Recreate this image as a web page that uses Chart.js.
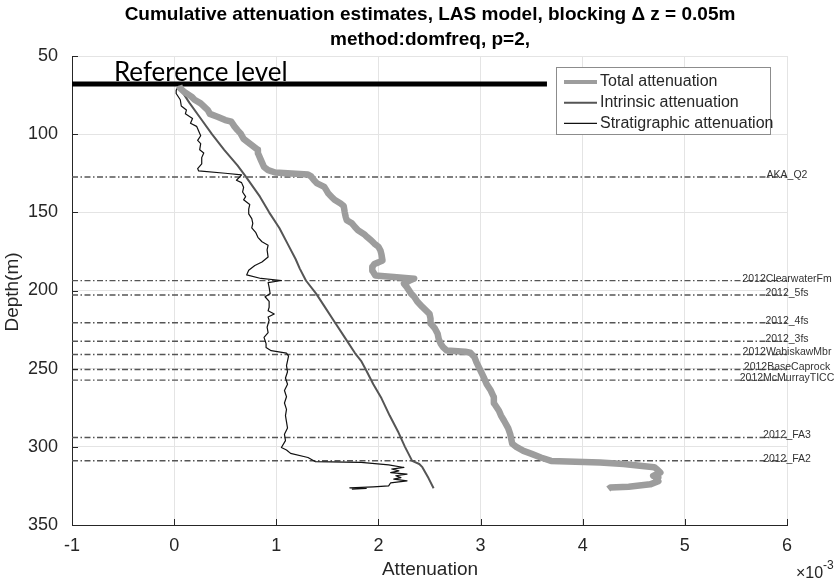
<!DOCTYPE html>
<html>
<head>
<meta charset="utf-8">
<script src="https://cdn.jsdelivr.net/npm/chart.js@4.4.1/dist/chart.umd.min.js"></script>
<style>
  html, body { margin: 0; padding: 0; background: #fff; }
  canvas { display: block; }
</style>
</head>
<body>
<canvas id="atten" width="839" height="584"></canvas>
<script>
// Depth in metres, attenuation in units of 1e-3

const stratDepth = [69.6, 72, 74, 78, 82, 84.6, 87, 90, 93, 95, 98, 101, 104, 106, 110, 112, 115, 119, 122, 123.5,
  125, 126, 127.5, 129.5, 131, 134, 137, 140, 142, 145, 148, 151, 154, 157, 160, 163, 166, 168.8, 171, 174,
  178.6, 181.8, 184, 187, 190, 192.3, 193.6, 195, 198, 202, 204, 207, 210.7, 213, 215, 217, 219, 223.5, 227, 230,
  234, 236.5, 238.5, 240, 242, 245, 248, 252, 256, 260, 264, 268, 272, 276, 280, 284, 288, 292, 296, 300.4,
  302, 304.2, 306.8, 309.4, 310, 311.5, 313.2, 314.2, 315.4, 316.5, 317.5, 318.5, 319.7, 320.7, 321.8, 323, 325,
  325.6, 326.2, 326.6, 327];
const stratAtten = [0.04, 0.02, 0.02, 0.06, 0.07, 0.12, 0.11, 0.18, 0.16, 0.22, 0.24, 0.26, 0.23, 0.26, 0.25, 0.29, 0.27, 0.27, 0.23, 0.24,
  0.5, 0.66, 0.64, 0.61, 0.66, 0.68, 0.67, 0.70, 0.68, 0.74, 0.73, 0.73, 0.76, 0.77, 0.76, 0.80, 0.82, 0.86, 0.92, 0.91,
  0.92, 0.86, 0.79, 0.73, 0.71, 0.85, 1.05, 0.92, 0.93, 0.94, 0.89, 0.93, 0.93, 0.92, 0.98, 0.92, 0.93, 0.91, 0.92, 0.88,
  0.90, 0.90, 0.95, 1.10, 1.12, 1.11, 1.10, 1.11, 1.09, 1.11, 1.08, 1.10, 1.08, 1.10, 1.09, 1.10, 1.11, 1.08, 1.09, 1.05,
  1.10, 1.14, 1.31, 1.38, 1.83, 2.10, 2.25, 2.13, 2.20, 2.12, 2.28, 2.17, 2.22, 2.15, 2.28, 2.12, 2.10,
  1.95, 1.72, 1.88, 1.74];

const intrDepth = [69, 80, 90, 100, 110, 120, 127, 140, 150, 160, 170, 180, 186, 193.6, 202, 210, 219, 230, 240, 245,
  251, 260, 269, 280, 290, 300, 309, 311, 313, 320, 326.5];
const intrAtten = [0.04, 0.15, 0.26, 0.37, 0.49, 0.62, 0.70, 0.84, 0.93, 1.03, 1.11, 1.19, 1.23, 1.29, 1.39, 1.47, 1.56, 1.67, 1.77, 1.83,
  1.88, 1.95, 2.03, 2.11, 2.19, 2.26, 2.33, 2.40, 2.43, 2.49, 2.54];

const totalDepth = [69, 70.7, 73, 76, 78, 80.3, 84.6, 87, 89, 91, 92, 95, 97.4, 99.5, 103, 106, 110, 112, 116.6, 121,
  123, 124.5, 125.2, 125.8, 127, 129.5, 131.5, 133.7, 135.8, 138, 140, 142, 144.4, 146, 150, 153, 155, 157, 159.4, 161.5,
  164, 165.8, 168, 170, 172, 174.4, 177, 180.8, 182, 183, 185, 187.2, 190.4, 191.4, 192.4, 193.8, 195.6, 198, 202, 204,
  207, 210.5, 213, 214.9, 218, 221, 224, 227.7, 231, 234, 236, 238.4, 239.2, 239.8, 242.6, 246, 251.3, 255.4, 260, 264,
  268.3, 272, 276.9, 280, 283.3, 288, 291.8, 295, 298, 300, 302.6, 304.5, 306.8, 309, 310, 311, 312.1, 313, 314.5, 316.4,
  318.6, 319.7, 320.7, 322, 324, 325.5, 326, 327];
const totalAtten = [0.05, 0.06, 0.10, 0.17, 0.20, 0.26, 0.33, 0.35, 0.43, 0.50, 0.56, 0.59, 0.62, 0.65, 0.68, 0.74, 0.82, 0.82, 0.85, 0.88,
  0.92, 0.99, 1.15, 1.31, 1.34, 1.37, 1.40, 1.47, 1.49, 1.51, 1.54, 1.57, 1.63, 1.66, 1.67, 1.68, 1.69, 1.74, 1.77, 1.80,
  1.86, 1.89, 1.93, 1.96, 2.00, 2.02, 2.03, 2.04, 2.00, 1.96, 1.94, 1.94, 1.97, 2.15, 2.35, 2.30, 2.25, 2.28, 2.32, 2.35,
  2.38, 2.43, 2.47, 2.50, 2.51, 2.51, 2.55, 2.58, 2.59, 2.61, 2.63, 2.67, 2.85, 2.90, 2.94, 2.96, 3.00, 3.03, 3.06, 3.10,
  3.13, 3.13, 3.18, 3.20, 3.23, 3.27, 3.29, 3.30, 3.31, 3.35, 3.42, 3.50, 3.59, 3.69, 4.17, 4.40, 4.56, 4.70, 4.73, 4.76,
  4.69, 4.74, 4.72, 4.74, 4.66, 4.45, 4.27, 4.25];

// formation tops
const topNames = ['AKA_Q2', '2012ClearwaterFm', '2012_5fs', '2012_4fs', '2012_3fs', '2012WabiskawMbr',
  '2012BaseCaprock', '2012McMurrayTICC', '2012_FA3', '2012_FA2'];
const topDepths = [127.4, 193.7, 202.9, 220.6, 232.5, 240.9, 250.5, 257.3, 294, 308.9];

const refDepth = 67.9;
const refSpan = [-1, 3.65];

const xTicks = [-1, 0, 1, 2, 3, 4, 5, 6];
const yTicks = [50, 100, 150, 200, 250, 300, 350];

const FONT = "'Liberation Sans', Arial, sans-serif";

function toPoints(depths, values) {
  return depths.map((d, i) => ({ x: values[i], y: d }));
}

const series = [
  { label: 'Total attenuation', data: toPoints(totalDepth, totalAtten), color: '#9d9d9d', width: 6.5 },
  { label: 'Intrinsic attenuation', data: toPoints(intrDepth, intrAtten), color: '#555555', width: 2 },
  { label: 'Stratigraphic attenuation', data: toPoints(stratDepth, stratAtten), color: '#111111', width: 1.2 }
];

const datasets = series.map(s => ({
  label: s.label,
  data: s.data,
  showLine: true,
  borderColor: s.color,
  borderWidth: s.width,
  borderJoinStyle: 'round',
  pointRadius: 0,
  tension: 0
}));

topDepths.forEach((d, i) => {
  datasets.push({
    label: topNames[i],
    data: [{ x: xTicks[0], y: d }, { x: xTicks[xTicks.length - 1], y: d }],
    showLine: true,
    borderColor: '#555555',
    borderWidth: 1.4,
    borderDash: [6, 2.5, 1.5, 2.5],
    pointRadius: 0
  });
});

datasets.push({
  label: 'Reference level',
  data: [{ x: refSpan[0], y: refDepth }, { x: refSpan[1], y: refDepth }],
  showLine: true,
  borderColor: '#000000',
  borderWidth: 5,
  borderCapStyle: 'butt',
  pointRadius: 0
});

// titles, legend, formation labels, inward ticks
const decorations = {
  id: 'decorations',
  afterDraw(chart) {
    const { ctx, chartArea, scales: { x, y } } = chart;
    ctx.save();

    // inward tick marks
    ctx.strokeStyle = '#262626';
    ctx.lineWidth = 1;
    ctx.beginPath();
    xTicks.forEach(v => {
      const px = Math.round(x.getPixelForValue(v)) + 0.5;
      ctx.moveTo(px, chartArea.bottom);
      ctx.lineTo(px, chartArea.bottom - 6);
    });
    yTicks.forEach(v => {
      const py = Math.round(y.getPixelForValue(v)) + 0.5;
      ctx.moveTo(chartArea.left, py);
      ctx.lineTo(chartArea.left + 6, py);
    });
    ctx.stroke();

    // formation names
    ctx.fillStyle = '#333333';
    ctx.font = '10.5px ' + FONT;
    ctx.textAlign = 'center';
    ctx.textBaseline = 'alphabetic';
    topDepths.forEach((d, i) => {
      ctx.fillText(topNames[i], x.getPixelForValue(6), y.getPixelForValue(d) + 1);
    });

    // reference level text
    ctx.fillStyle = '#000000';
    ctx.font = "26px Lato, 'Open Sans', sans-serif";
    ctx.textAlign = 'left';
    ctx.fillText('Reference level', x.getPixelForValue(-0.59), y.getPixelForValue(refDepth) - 3);

    // title
    ctx.fillStyle = '#000000';
    ctx.font = 'bold 19px ' + FONT;
    ctx.textAlign = 'center';
    ctx.textBaseline = 'middle';
    ctx.fillText('Cumulative attenuation estimates, LAS model, blocking \u0394 z = 0.05m', 430, 15);
    ctx.fillText('method:domfreq, p=2,', 430, 40);

    // axis titles
    ctx.fillStyle = '#262626';
    ctx.font = '19px ' + FONT;
    ctx.fillText('Attenuation', 430, 570);
    ctx.save();
    ctx.translate(13, 292);
    ctx.rotate(-Math.PI / 2);
    ctx.fillText('Depth(m)', 0, 0);
    ctx.restore();

    // exponent
    ctx.textAlign = 'left';
    ctx.font = '16px ' + FONT;
    ctx.fillText('\u00d710', 796, 574);
    ctx.font = '12px ' + FONT;
    ctx.fillText('-3', 823, 566);

    // legend
    const lx = 556, ly = 67, lw = 214, lh = 67;
    ctx.fillStyle = '#ffffff';
    ctx.fillRect(lx, ly, lw, lh);
    ctx.strokeStyle = '#8c8c8c';
    ctx.lineWidth = 1;
    ctx.strokeRect(lx + 0.5, ly + 0.5, lw, lh);
    series.forEach((s, i) => {
      const ry = ly + 15 + i * 20.7;
      ctx.strokeStyle = s.color;
      ctx.lineWidth = i === 0 ? 4 : s.width;
      ctx.beginPath();
      ctx.moveTo(564, ry);
      ctx.lineTo(597, ry);
      ctx.stroke();
      ctx.fillStyle = '#262626';
      ctx.font = '16px ' + FONT;
      ctx.textAlign = 'left';
      ctx.textBaseline = 'middle';
      ctx.fillText(s.label, 600, ry);
    });

    ctx.restore();
  }
};

new Chart(document.getElementById('atten'), {
  type: 'scatter',
  data: { datasets },
  options: {
    responsive: false,
    animation: false,
    devicePixelRatio: 1,
    layout: { padding: { top: 56, right: 52, left: 0, bottom: 0 } },
    plugins: {
      legend: { display: false },
      tooltip: { enabled: false },
      title: { display: false }
    },
    scales: {
      x: {
        type: 'linear',
        min: -1,
        max: 6,
        afterFit(scale) { scale.height = 59; },
        afterBuildTicks(scale) { scale.ticks = xTicks.map(v => ({ value: v })); },
        grid: { color: '#e4e4e4', drawTicks: false },
        border: { color: '#262626', width: 1 },
        ticks: { padding: 10, color: '#262626', font: { family: FONT, size: 18 } }
      },
      y: {
        type: 'linear',
        reverse: true,
        min: 50,
        max: 350,
        afterFit(scale) { scale.width = 72; },
        afterBuildTicks(scale) { scale.ticks = yTicks.map(v => ({ value: v })); },
        grid: { color: '#e4e4e4', drawTicks: false },
        border: { color: '#262626', width: 1 },
        ticks: { padding: 14, color: '#262626', font: { family: FONT, size: 18 } }
      }
    }
  },
  plugins: [decorations]
});
</script>
</body>
</html>
